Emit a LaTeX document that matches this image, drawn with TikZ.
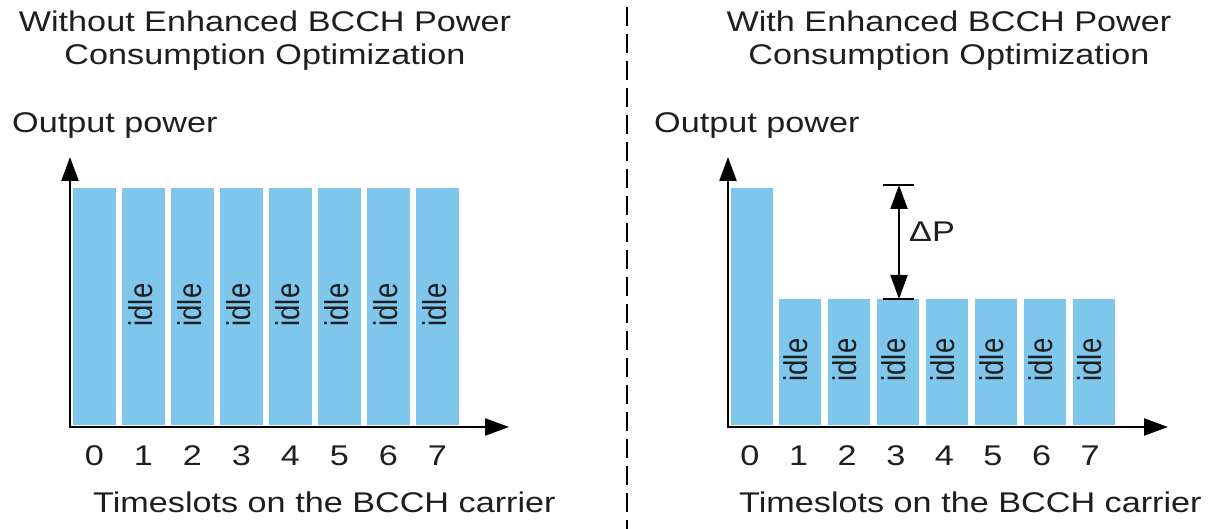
\documentclass[tikz,border=0pt]{standalone}
\usepackage{fontspec}
\usepackage{graphicx}
\setmainfont{Liberation Sans}[FakeStretch=1.2]
\newfontfamily\idlefont{Liberation Sans}
\usetikzlibrary{arrows.meta}

\definecolor{slotblue}{RGB}{126,198,236}
\definecolor{ink}{RGB}{30,30,30}

\tikzset{
  slotbar/.style={fill=slotblue, draw=none, inner sep=0pt, minimum width=43pt, anchor=south west},
  slotbarR/.style={slotbar, minimum width=42pt},
  label/.style={text=ink, inner sep=0pt, font=\fontsize{28.5}{33}\selectfont},
  idlelabel/.style={text=ink, inner sep=0pt, rotate=90,
    font=\idlefont\fontsize{27.5}{30}\selectfont},
  axisline/.style={line width=2.4pt, draw=black,
    {Triangle[length=24pt,width=17pt]}-{Triangle[length=24pt,width=17pt]}},
  dimline/.style={line width=2pt, draw=black,
    {Triangle[length=24pt,width=17pt]}-{Triangle[length=24pt,width=17pt]}},
  tickline/.style={line width=2pt, draw=black},
  divider/.style={line width=2pt, draw=black, dash pattern=on 19pt off 8pt, dash phase=20pt}
}

\begin{document}
\begin{tikzpicture}[x=1pt, y=-1pt]
\useasboundingbox (0,0) rectangle (1211,529);

% ---------- left panel: without optimization ----------
\node[label, anchor=base] (titleLa) at (265,32) {Without Enhanced BCCH Power};
\node[label, anchor=base] (titleLb) at (265,65) {Consumption Optimization};
\node[label, anchor=base west] (ylabL) at (12,133) {Output power};

\foreach \k in {0,...,7} {
  \node[slotbar, minimum height=237pt] (L\k) at ({73+49*\k},425) {};
  \node[label, anchor=base] (Ld\k) at ({94.5+49*\k},465) {\k};
}
\foreach \k in {1,...,7} {
  \node[idlelabel] (Li\k) at ({91.5+49*\k},305) {\scalebox{1}[1.2]{idle}};
}

\coordinate (Lorig) at (70,427);
\coordinate (Ltop) at (70,157);
\coordinate (Lend) at (509,427);
\draw[axisline] (Ltop) -- (Lorig) -- (Lend);

\node[label, anchor=base west] (xlabL) at (93,512) {Timeslots on the BCCH carrier};

% ---------- divider ----------
\coordinate (divTop) at (627,0);
\coordinate (divBot) at (627,529);
\draw[divider] (divTop) -- (divBot);

% ---------- right panel: with optimization ----------
\node[label, anchor=base] (titleRa) at (949,32) {With Enhanced BCCH Power};
\node[label, anchor=base] (titleRb) at (949,65) {Consumption Optimization};
\node[label, anchor=base west] (ylabR) at (654,133) {Output power};

\node[slotbarR, minimum height=237pt] (R0) at (731,425) {};
\node[label, anchor=base] (Rd0) at (750,465) {0};
\foreach \k in {1,...,7} {
  \node[slotbarR, minimum height=126pt] (R\k) at ({730+49*\k},425) {};
  \node[label, anchor=base] (Rd\k) at ({750+48.6*\k},465) {\k};
  \node[idlelabel] (Ri\k) at ({747+49*\k},360) {\scalebox{1}[1.2]{idle}};
}

\coordinate (Rorig) at (728,427);
\coordinate (Rtop) at (728,157);
\coordinate (Rend) at (1168,427);
\draw[axisline] (Rtop) -- (Rorig) -- (Rend);

% power reduction marker
\coordinate (dTopL) at (883,185);
\coordinate (dTopR) at (914,185);
\coordinate (dBotL) at (883,299);
\coordinate (dBotR) at (914,299);
\coordinate (dTop) at (899,185);
\coordinate (dBot) at (899,299);
\draw[tickline] (dTopL) -- (dTopR);
\draw[tickline] (dBotL) -- (dBotR);
\draw[dimline] (dTop) -- (dBot);
\node[label, anchor=base west] (dP) at (909,242) {ΔP};

\node[label, anchor=base west] (xlabR) at (739,512) {Timeslots on the BCCH carrier};
\end{tikzpicture}
\end{document}
